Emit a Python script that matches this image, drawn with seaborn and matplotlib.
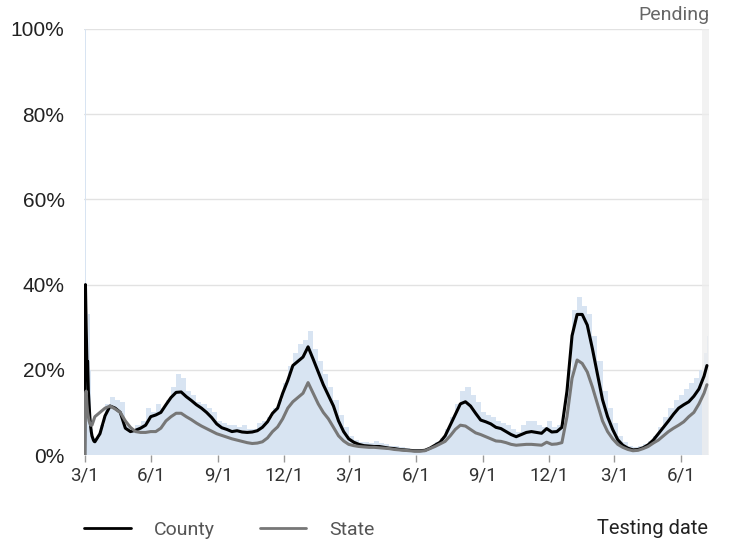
import numpy as np
import pandas as pd
import matplotlib
matplotlib.use("Agg")
import matplotlib.pyplot as plt
from matplotlib.lines import Line2D
import seaborn as sns

# dias desde 2020-03-01: diário nas 2 primeiras semanas, depois semanal
dias_inicio = list(range(0, 14))
dias_semana = list(range(14, 855, 7)) + [858]

county_inicio = [0, 40, 30, 22, 22, 15, 12, 9, 7, 5.5, 4.5, 4, 3.5, 3.2]
state_inicio = [0, 14, 15, 12, 10, 9, 8, 7.5, 7, 7, 7, 7.5, 8, 8.5]
barras_inicio = [0, 100, 40, 25, 25, 33, 33, 20, 12, 8, 6, 5, 4, 4]

county_semana = [
    3.1, 5.0, 9.2, 11.5, 11.0, 10.0, 6.3, 5.5, 5.8, 6.3,
    7.0, 9.0, 9.4, 10.0, 11.8, 13.5, 14.7, 14.8, 13.7, 12.8,
    11.8, 11.0, 10.0, 8.8, 7.3, 6.4, 6.0, 5.5, 5.7, 5.4,
    5.3, 5.4, 5.7, 6.5, 7.8, 9.8, 11.0, 14.5, 17.5, 21.0,
    22.0, 23.0, 25.4, 22.5, 19.5, 16.5, 14.0, 11.5, 8.0, 5.5,
    3.8, 3.0, 2.5, 2.2, 2.1, 2.0, 2.0, 1.8, 1.6, 1.5,
    1.3, 1.2, 1.1, 1.0, 1.0, 1.1, 1.6, 2.3, 3.0, 4.5,
    7.0, 9.5, 12.0, 12.5, 11.5, 9.8, 8.2, 7.8, 7.3, 6.5,
    6.2, 5.5, 4.8, 4.3, 4.8, 5.3, 5.5, 5.3, 5.1, 6.2,
    5.4, 5.5, 6.5, 15.0, 28.0, 33.0, 33.0, 30.5, 25.0, 19.0,
    13.0, 9.0, 6.0, 3.6, 2.3, 1.6, 1.2, 1.3, 1.7, 2.4,
    3.5, 5.0, 6.5, 8.0, 9.6, 11.0, 11.8, 12.5, 13.8, 15.5,
    18.5, 21.0]

state_semana = [
    9.0, 10.0, 11.0, 11.5, 10.8, 10.0, 8.0, 6.5, 5.5, 5.3,
    5.3, 5.5, 5.5, 6.3, 8.0, 9.0, 9.8, 9.8, 9.0, 8.3,
    7.5, 6.8, 6.2, 5.6, 5.0, 4.6, 4.2, 3.8, 3.5, 3.2,
    2.9, 2.7, 2.8, 3.1, 4.0, 5.5, 6.6, 8.5, 11.0, 12.5,
    13.5, 14.5, 17.0, 14.5, 12.0, 10.0, 8.5, 6.5, 4.5, 3.3,
    2.5, 2.2, 2.0, 1.9, 1.8, 1.8, 1.7, 1.6, 1.5, 1.3,
    1.2, 1.1, 1.0, 0.9, 0.9, 1.0, 1.5, 2.0, 2.6, 3.2,
    4.5, 6.0, 7.0, 6.8, 6.0, 5.2, 4.8, 4.3, 3.8, 3.3,
    3.2, 2.9, 2.5, 2.3, 2.4, 2.5, 2.5, 2.4, 2.3, 3.0,
    2.5, 2.6, 2.9, 9.0, 18.0, 22.3, 21.5, 19.5, 16.0, 12.0,
    8.0, 5.5, 3.8, 2.5, 1.8, 1.3, 1.0, 1.1, 1.5, 2.0,
    2.8, 3.5, 4.5, 5.5, 6.3, 7.0, 7.8, 9.0, 10.0, 12.0,
    14.5, 16.5]

barras_semana = [
    4, 7, 12, 13.5, 13, 12.5, 7, 6, 7, 8,
    11, 10, 12, 11, 13, 16, 19, 18, 15, 14,
    12.5, 12, 11, 10, 8, 7.5, 7, 7, 6.5, 7,
    6, 6, 7.5, 8, 9, 11, 13, 17, 21, 24,
    26, 27, 29, 25, 22, 19, 16, 13, 9.5, 6.5,
    4.5, 3.5, 3, 3, 2.8, 3.2, 2.8, 2.5, 2.2, 2.0,
    1.8, 1.6, 1.4, 1.3, 1.3, 1.5, 2.2, 3, 4, 6,
    9, 12, 15, 16, 14, 12.5, 10, 9.5, 9, 8,
    7.5, 7, 6, 5.5, 7, 8, 8, 7, 6.5, 8,
    6.5, 7, 8, 20, 34, 37, 35, 33, 28, 22,
    15, 11, 7.5, 4.5, 3, 2, 1.8, 2, 2.5, 3.2,
    4.5, 6.5, 9, 11, 13, 14, 15.5, 17, 18, 20,
    24, 28]

tick_datas = ['2020-03-01', '2020-06-01', '2020-09-01', '2020-12-01',
              '2021-03-01', '2021-06-01', '2021-09-01', '2021-12-01',
              '2022-03-01', '2022-06-01']
tick_rotulos = ['3/1', '6/1', '9/1', '12/1', '3/1', '6/1', '9/1', '12/1', '3/1', '6/1']

inicio = pd.Timestamp('2020-03-01')
dias = np.array(dias_inicio + dias_semana)
datas = inicio + pd.to_timedelta(dias, unit='D')
df = pd.DataFrame({
    'data': datas,
    'County': county_inicio + county_semana,
    'State': state_inicio + state_semana,
    'Daily': barras_inicio + barras_semana,
})
larguras = np.diff(dias, append=860)

df_long = df.melt(id_vars='data', value_vars=['County', 'State'],
                  var_name='Area', value_name='Positividade')

sns.set_theme(style='white')
plt.rcParams['font.family'] = ['Roboto', 'DejaVu Sans']

fig = plt.figure(figsize=(7.48, 5.42), dpi=100)
ax = fig.add_axes([0.1123, 0.1605, 0.8357, 0.786])

ax.bar(df['data'], df['Daily'], width=larguras, align='edge',
       color='#d8e4f2', linewidth=0, zorder=1)
ax.axvspan(pd.Timestamp('2022-06-30'), pd.Timestamp('2022-07-10'),
           color='#eeeeee', alpha=0.75, linewidth=0, zorder=2)
sns.lineplot(data=df_long, x='data', y='Positividade', hue='Area',
             palette={'County': 'black', 'State': '#777777'},
             linewidth=2.2, legend=False, ax=ax, zorder=3)

ax.set_ylim(0, 100)
ax.set_xlim(pd.Timestamp('2020-02-29'), pd.Timestamp('2022-07-10'))
ax.set_yticks([0, 20, 40, 60, 80, 100])
ax.set_yticklabels(['0%', '20%', '40%', '60%', '80%', '100%'],
                   family='Liberation Sans', fontsize=15, color='#222222')
ax.set_xticks(pd.to_datetime(tick_datas))
ax.set_xticklabels(tick_rotulos, fontsize=13.5, color='#333333')
ax.tick_params(axis='y', length=0, pad=14)
ax.tick_params(axis='x', length=5, width=1, color='#999999', pad=3,
               bottom=True)
ax.grid(axis='y', color='#e2e2e2', linewidth=1)
ax.set_axisbelow(True)
for s in ax.spines.values():
    s.set_visible(False)
ax.set_xlabel('')
ax.set_ylabel('')

ax.text(1.0, 1.012, 'Pending', transform=ax.transAxes, ha='right',
        va='bottom', fontsize=14, color='#666666')

handles = [Line2D([], [], color='black', linewidth=2),
           Line2D([], [], color='#777777', linewidth=2)]
fig.legend(handles, ['County', 'State'], loc='center left',
           bbox_to_anchor=(84 / 748, 1 - 530 / 542), ncol=2, frameon=False,
           fontsize=14, handlelength=2.4, handletextpad=1.2,
           columnspacing=2.3, borderpad=0, borderaxespad=0,
           labelcolor='#555555')
fig.text(708 / 748, 1 - 528 / 542, 'Testing date', ha='right', va='center',
         fontsize=14.5, color='#222222')

fig.savefig('out.png', dpi=100)
